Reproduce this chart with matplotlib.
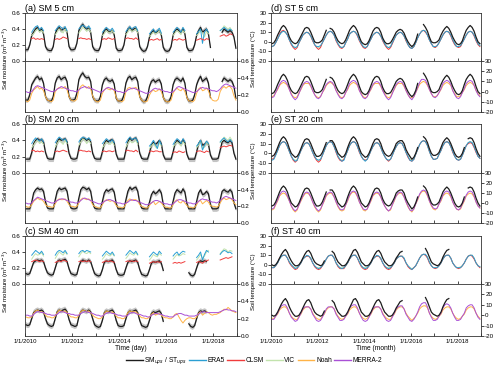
import numpy as np
import pandas as pd
import matplotlib
matplotlib.use('agg')
import matplotlib.pyplot as plt
import matplotlib.dates as mdates
from matplotlib.lines import Line2D

plt.rcParams['font.family'] = ['Liberation Sans', 'DejaVu Sans']

N = np.nan
months = pd.date_range('2010-01-01', periods=108, freq='MS') + pd.Timedelta(days=14)

# ---------------- soil moisture (monthly, J..D per row) ----------------
sm5_obs = [.14,.14,.20,.32,.36,.40,.42,.38,.40,.34,.18,.14,
           .13,.13,.18,.34,.40,.42,.38,.40,.41,.36,.18,.14,
           .14,.15,.22,.38,.43,.46,.42,.40,.41,.36,.18,.14,
           .13,.13,.18,.32,.38,.40,.37,.36,.38,.33,.16,.13,
           .13,.14,.20,.34,.40,.42,.38,.40,.41,.36,.18,.14,
           .12,.13,.18,.30,.36,.38,.35,.37,.38,.33,.17,.13,
           .12,.13,.18,.32,.38,.40,.38,.36,.40,.34,.17,.13,
           .13,.14,.20,.32,.38,.42,.36,.38,.40,.34,.17,N,
           N,N,N,N,.36,.40,.38,.36,.38,.36,.30,.16]
sm20_obs = [.17,.17,.17,.25,.36,.40,.42,.40,.41,.38,.25,.18,
            .17,.17,.17,.28,.38,.42,.40,.41,.42,.38,.24,.18,
            .17,.17,.18,.30,.40,.43,.42,.40,.42,.38,.24,.18,
            .17,.17,.17,.26,.36,.40,.38,.40,.41,.37,.23,.17,
            .17,.17,.17,.28,.38,.43,.40,.42,.43,.38,.24,.18,
            .17,.17,.17,.25,.34,.38,.35,.37,.40,.36,.22,.17,
            .17,.17,.17,.26,.36,.40,.38,.36,.41,.37,.23,.17,
            .17,.17,.17,.26,.36,.40,.34,.35,.38,.35,.22,.17,
            .17,.17,.18,.28,.38,.40,.38,.37,.40,.37,.24,.17]
sm40_obs = [.13,.12,.13,.20,.27,.29,.30,.29,.30,.28,.20,.14,
            .12,.11,.12,.20,.28,.30,.29,.30,.31,.28,.19,.13,
            .12,.11,.12,.22,.28,.30,.29,.28,.30,.28,.20,.13,
            .11,.10,.11,.18,.27,.29,.28,.29,.30,.27,.18,.12,
            .11,.11,.12,.20,.27,.29,.28,.29,.30,.27,.18,.12,
            .11,.10,.11,.18,.26,.28,.27,.28,.29,.26,.17,N,
            N,N,N,N,N,N,N,N,N,N,N,.14,
            .11,.10,.12,.20,.27,.29,.28,.29,.28,N,N,N,
            N,N,N,N,N,N,N,N,N,N,N,N]
sm_band = 0.03

# warm-season products, Apr..Oct per year
era5_sm5 = [[.36,.40,.43,.44,.39,.42,.38], [.38,.41,.44,.42,.40,.43,.38], [.40,.43,.45,.43,.41,.44,.40],
            [.36,.39,.42,.40,.38,.41,.37], [.37,.40,.43,.40,.42,.43,.38], [.34,.37,.40,.36,.38,.41,.35],
            [.36,.39,.42,.40,.36,.42,.38], [.34,.37,.40,.22,.36,.40,.36], [.38,.40,.42,.40,.38,.40,.38]]
clsm_sm5 = [[.28,.29,.27,.28,.27,.28,.27], [.27,.28,.27,.28,.30,.29,.28], [.28,.29,.28,.28,.27,.28,.27],
            [.27,.28,.27,.29,.28,.27,.28], [.28,.29,.28,.28,.27,.29,.27], [.26,.27,.26,.27,.28,.26,.27],
            [.26,.27,.26,.28,.27,.26,.27], [.26,.27,.28,.27,.26,.28,.27], [.31,.32,.33,.31,.32,.34,.33]]
vic_sm5 = [[.32,.34,.38,.40,.36,.38,.35], [.33,.36,.40,.38,.35,.40,.36], [.35,.38,.42,.40,.37,.40,.36],
           [.32,.34,.38,.36,.35,.38,.34], [.33,.36,.40,.37,.38,.40,.35], [.31,.33,.36,.34,.35,.38,.33],
           [.32,.35,.38,.36,.33,.38,.35], [.32,.34,.38,.35,.30,.37,.34], [.38,.40,.44,.42,.40,.42,.38]]
era5_sm20 = [[.36,.40,.43,.41,.39,.42,.38], [.37,.41,.44,.42,.40,.42,.38], [.38,.42,.44,.43,.41,.43,.40],
             [.36,.39,.42,.40,.38,.41,.37], [.37,.41,.44,.41,.42,.43,.38], [.33,.36,.40,.35,.30,.40,.35],
             [.35,.39,.42,.40,.36,.42,.38], [.33,.36,.40,.28,.34,.39,.36], [.38,.41,.43,.40,.38,.41,.38]]
clsm_sm20 = [[.27,.28,.26,.27,.26,.27,.26], [.26,.27,.26,.27,.28,.27,.26], [.27,.28,.27,.27,.26,.27,.26],
             [.26,.27,.26,.27,.27,.26,.27], [.27,.28,.27,.27,.26,.28,.26], [.26,.27,.26,.27,.27,.26,.26],
             [.25,.26,.25,.27,.26,.25,.26], [.26,.27,.27,.26,.25,.27,.26], [.31,.32,.33,.32,.33,.34,.33]]
vic_sm20 = [[.31,.34,.38,.40,.36,.38,.35], [.32,.36,.40,.38,.35,.40,.36], [.34,.38,.42,.40,.36,.40,.36],
            [.31,.34,.38,.36,.35,.38,.34], [.32,.36,.40,.37,.38,.40,.35], [.30,.33,.36,.32,.30,.37,.33],
            [.32,.35,.38,.36,.33,.38,.35], [.31,.34,.40,.30,.32,.38,.34], [.37,.40,.44,.42,.40,.44,.40]]
era5_sm40 = [[.36,.39,.42,.40,.38,.41,.37], [.36,.40,.42,.41,.39,.42,.38], [.38,.41,.42,.40,.42,.41,.40],
             [.35,.38,.41,.39,.37,.40,.36], [.36,.39,.42,.40,.38,.41,.37], [.34,.37,.40,.38,.36,.41,.38],
             [.35,.38,.40,.36,.39,.41,.40], [.33,.36,.40,.30,.37,.42,.40], [.37,.40,.42,.41,.39,.40,.38]]
clsm_sm40 = [[.28,.29,.30,.29,.28,.29,.28], [.27,.28,.29,.28,.30,.29,.28], [.28,.29,.28,.29,.28,.29,.28],
             [.27,.28,.29,.28,.29,.28,.27], [.28,.29,.28,.29,.28,.29,.28], [.26,.27,.28,.27,.28,.27,.28],
             [.26,.27,.26,.27,.26,.27,.28], [.27,.28,.27,.26,.28,.29,.30], [.30,.31,.32,.33,.32,.33,.34]]
vic_sm40 = [[.31,.35,.38,.36,.37,.39,.35], [.32,.36,.40,.38,.36,.40,.37], [.34,.38,.41,.39,.38,.40,.38],
            [.31,.34,.38,.36,.35,.38,.35], [.32,.35,.39,.37,.36,.39,.36], [.30,.33,.37,.35,.34,.38,.36],
            [.31,.34,.37,.35,.36,.38,.37], [.30,.33,.37,.32,.35,.40,.42], [.38,.41,.44,.43,.40,.42,.41]]

noah_sm5 = [.13,.12,.14,.22,.26,.28,.30,.27,.28,.25,.18,.14,
            .13,.12,.14,.24,.27,.29,.28,.28,.30,.26,.18,.14,
            .13,.13,.15,.26,.30,.32,.30,.28,.30,.27,.19,.14,
            .12,.12,.14,.22,.26,.28,.27,.26,.28,.25,.17,.13,
            .13,.12,.14,.24,.28,.29,.27,.28,.29,.26,.18,.14,
            .12,.12,.13,.20,.24,.26,.24,.25,.27,.24,.17,.13,
            .12,.12,.14,.22,.26,.28,.26,.25,.28,.24,.17,.13,
            .13,.12,.14,.22,.27,.29,.25,.26,.28,.25,.18,.14,
            .13,.13,.15,.24,.28,.30,.28,.30,.30,.27,.19,.14]
merra_sm5 = [.24,.23,.23,.24,.27,.30,.31,.30,.29,.28,.27,.26,
             .25,.24,.24,.25,.27,.28,.30,.29,.28,.27,.26,.25,
             .25,.24,.24,.26,.28,.29,.30,.29,.28,.28,.27,.26,
             .25,.24,.23,.24,.26,.28,.29,.28,.27,.26,.25,.24,
             .24,.23,.23,.24,.26,.27,.28,.28,.27,.26,.25,.24,
             .23,.22,.22,.23,.25,.27,.28,.27,.27,.26,.25,.24,
             .24,.23,.23,.24,.26,.29,.30,.29,.28,.27,.26,.25,
             .24,.23,.23,.24,.26,.28,.29,.28,.28,.27,.26,.25,
             .25,.24,.25,.27,.30,.32,.33,.32,.31,.30,.29,.28]
noah_sm20 = [.20,.19,.19,.22,.26,.28,.30,.28,.28,.26,.22,.20,
             .20,.19,.19,.23,.27,.29,.28,.28,.29,.26,.22,.20,
             .20,.19,.20,.24,.28,.30,.29,.28,.29,.27,.22,.20,
             .19,.18,.18,.22,.26,.28,.27,.26,.27,.25,.21,.19,
             .19,.18,.19,.23,.27,.29,.27,.28,.28,.26,.22,.20,
             .19,.18,.18,.21,.24,.26,.22,.24,.26,.24,.21,.19,
             .19,.18,.18,.22,.26,.28,.25,.24,.27,.24,.21,.19,
             .19,.18,.19,.22,.26,.27,.23,.25,.27,.25,.21,.20,
             .20,.19,.20,.24,.28,.30,.28,.29,.30,.28,.24,.22]
merra_sm20 = [.24,.23,.23,.24,.27,.29,.31,.30,.29,.28,.27,.26,
              .25,.24,.24,.25,.27,.28,.29,.29,.28,.27,.26,.25,
              .25,.24,.24,.25,.27,.29,.30,.29,.28,.27,.26,.25,
              .24,.23,.23,.24,.26,.27,.28,.28,.27,.26,.25,.24,
              .24,.23,.23,.24,.25,.27,.28,.27,.27,.26,.25,.24,
              .23,.22,.22,.23,.24,.26,.27,.27,.26,.25,.24,.23,
              .23,.22,.22,.23,.25,.27,.28,.28,.27,.26,.25,.24,
              .24,.23,.23,.24,.26,.28,.29,.28,.28,.27,.26,.25,
              .25,.24,.25,.27,.29,.31,.32,.31,.30,.29,.28,.27]
noah_sm40 = [.22,.21,.21,.22,.26,.29,.30,.28,.28,.27,.24,.22,
             .22,.21,.21,.23,.27,.30,.29,.28,.29,.27,.24,.22,
             .22,.21,.21,.24,.28,.30,.29,.28,.29,.27,.24,.22,
             .21,.20,.20,.22,.26,.29,.28,.27,.28,.26,.23,.21,
             .21,.20,.20,.23,.27,.29,.28,.28,.28,.26,.23,.21,
             .21,.20,.20,.22,.25,.27,.24,.25,.26,.24,.22,.21,
             .21,.20,.20,.22,.25,.26,.22,.18,.15,.18,.20,.21,
             .21,.20,.20,.22,.26,.28,.24,.26,.28,.27,.25,.24,
             .25,.25,.26,.27,.29,.31,.30,.33,.31,.29,.28,.27]
merra_sm40 = [.24,.24,.23,.23,.25,.27,.28,.28,.27,.27,.26,.25,
              .25,.24,.24,.24,.25,.27,.28,.28,.27,.26,.26,.25,
              .25,.24,.24,.24,.26,.27,.28,.28,.27,.27,.26,.25,
              .24,.24,.23,.23,.25,.26,.27,.27,.26,.26,.25,.24,
              .24,.23,.23,.23,.24,.26,.27,.27,.26,.25,.25,.24,
              .23,.23,.22,.22,.24,.25,.26,.26,.25,.25,.24,.23,
              .23,.22,.22,.22,.24,.25,.26,.26,.25,.24,.24,.23,
              .23,.23,.23,.24,.25,.27,.28,.28,.27,.27,.27,.27,
              .27,.27,.27,.28,.29,.30,.31,.30,.30,.29,.29,.28]

# ---------------- soil temperature (monthly, J..D per row) ----------------
st5_obs = [-2,-1,2,7,11,15,17,15,11,5,1,-1,
           -2,-1,2,6,10,14,15,14,10,5,0,-1,
           -1,0,2,7,12,N,14,13,10,5,1,-1,
           -2,-1,2,7,12,15,17,15,11,5,0,-2,
           -3,-2,1,6,11,14,15,14,10,4,0,-2,
           -2,-1,2,6,10,12,13,12,9,4,0,-3,
           -5,-3,1,8,N,N,18,15,11,5,0,-1,
           -1,0,2,7,11,14,16,14,10,5,1,-2,
           -3,-2,1,7,12,15,17,15,11,5,0,-2]
era5_st5 = [-5,-4,-1,3,7,10,11,10,7,2,-2,-5,
            -6,-5,-1,3,7,9,10,9,6,2,-3,-5,
            -5,-4,-1,3,7,10,11,10,7,2,-2,-5,
            -6,-5,-1,3,8,10,11,10,7,2,-2,-5,
            -6,-5,-1,3,7,9,10,9,6,2,-2,-5,
            -6,-5,-1,3,7,9,10,9,6,2,-3,-6,
            -7,-5,-1,4,8,11,12,11,7,2,-2,-5,
            -5,-4,-1,3,7,10,11,10,7,2,-2,-5,
            -5,-4,-1,3,7,10,11,10,7,2,-2,-4]
clsm_st5 = [-5,-4,-1,3,8,11,12,10,7,2,-3,-6,
            -8,-6,-1,3,7,9,10,9,6,1,-3,-6,
            -8,-6,-1,3,7,10,11,10,7,1,-3,-6,
            -7,-5,-1,3,8,10,11,10,6,1,-3,-6,
            -7,-5,-1,3,7,9,10,9,6,1,-3,-6,
            -8,-6,-2,3,7,9,10,9,6,1,-3,-6,
            -7,-5,-1,4,8,11,12,10,7,2,-2,-5,
            -6,-4,-1,3,7,10,11,10,6,1,-3,-5,
            -6,-5,-1,3,7,10,11,10,6,1,-3,-5]
vic_st5 = [-5,-4,-1,3,7,10,11,10,7,2,-2,-5,
           -6,-5,-1,3,7,9,10,9,6,1,-3,-5,
           -6,-5,-1,3,7,10,11,10,7,2,-2,-5,
           -6,-5,-1,3,8,10,11,10,7,2,-2,-5,
           -6,-5,-1,3,7,9,10,9,6,2,-2,-5,
           -6,-5,-1,3,7,9,10,9,6,1,-3,-6,
           -6,-5,-1,4,8,11,12,11,7,2,-2,-5,
           -6,-4,-1,3,7,10,11,10,7,2,-2,-5,
           -5,-4,-1,3,7,10,11,10,7,2,-2,-4]
noah_st5 = [-5,-4,-1,2,6,8,9,8,6,2,-2,-5,
            -6,-5,-1,2,6,8,8,8,5,1,-3,-5,
            -6,-5,-1,2,6,8,9,8,6,1,-2,-5,
            -6,-5,-1,2,6,8,9,8,6,1,-2,-5,
            -6,-5,-1,2,6,8,8,8,5,1,-2,-5,
            -6,-5,-1,2,6,8,8,8,5,1,-3,-6,
            -6,-5,-1,3,7,9,10,9,6,2,-2,-5,
            -5,-4,-1,2,6,8,9,8,6,1,-2,-5,
            -5,-4,-1,2,6,8,9,8,6,1,-2,-4]
merra_st5 = [-6,-5,-1,3,7,10,11,10,7,2,-3,-6,
             -8,-6,-2,3,7,9,10,9,6,1,-3,-6,
             -7,-5,-1,3,7,9,10,9,6,1,-3,-6,
             -7,-5,-1,3,8,10,11,10,7,1,-3,-6,
             -7,-5,-1,3,7,9,10,9,6,1,-3,-6,
             -8,-6,-2,3,7,9,10,9,6,1,-3,-6,
             -8,-5,-1,4,9,12,12,11,7,2,-2,-5,
             -6,-4,-1,3,8,10,11,10,7,1,-3,-6,
             -7,-5,-1,3,8,10,11,10,6,1,-3,-5]

st20_obs = [-3,-2,1,6,11,15,17,15,11,5,0,-2,
            -4,-3,0,5,10,14,15,14,10,5,0,-3,
            -3,-2,1,6,11,N,13,13,10,5,0,-2,
            -4,-3,0,6,11,15,17,15,11,5,0,-2,
            -4,-3,0,5,10,14,15,14,10,4,0,-2,
            -3,-2,1,5,10,12,13,13,10,4,0,-3,
            -6,-4,0,6,N,N,17,15,11,5,0,-2,
            -2,-1,1,6,11,14,16,14,10,5,0,-3,
            -4,-3,0,6,N,15,16,15,11,5,0,-3]
era5_st20 = [-7,-6,-2,3,8,11,12,11,7,2,-3,-6,
             -8,-7,-2,3,7,10,11,10,6,1,-3,-6,
             -7,-6,-2,3,8,11,12,11,7,2,-3,-6,
             -8,-7,-2,3,8,11,12,11,7,2,-3,-6,
             -8,-6,-2,3,7,10,11,10,6,1,-3,-6,
             -7,-6,-2,3,7,10,11,10,6,1,-3,-7,
             -8,-6,-1,4,9,12,13,12,8,2,-3,-6,
             -6,-5,-1,3,8,11,12,11,7,2,-3,-6,
             -7,-6,-2,3,8,11,12,11,7,2,-3,-5]
clsm_st20 = [-6,-5,-1,3,8,11,12,11,7,2,-3,-7,
             -9,-7,-2,3,7,10,11,10,6,1,-4,-7,
             -9,-7,-2,3,8,11,12,11,7,1,-4,-7,
             -8,-6,-2,3,8,11,12,11,7,1,-3,-6,
             -7,-6,-2,3,7,10,11,10,6,1,-3,-6,
             -8,-6,-2,3,7,10,11,10,6,1,-4,-7,
             -8,-6,-1,4,9,12,13,12,8,2,-3,-6,
             -6,-5,-1,3,8,11,12,11,7,1,-3,-6,
             -7,-6,-2,3,8,10,11,10,6,1,-3,-5]
vic_st20 = [-6,-5,-2,3,8,11,12,11,7,2,-3,-6,
            -7,-6,-2,3,7,10,11,10,6,1,-3,-6,
            -7,-6,-2,3,8,11,12,11,7,2,-3,-6,
            -7,-6,-2,3,8,11,12,11,7,2,-3,-6,
            -7,-6,-2,3,7,10,11,10,6,1,-3,-6,
            -7,-6,-2,3,7,10,11,10,6,1,-3,-6,
            -7,-6,-1,4,9,12,13,12,8,2,-3,-6,
            -6,-5,-1,3,8,11,12,11,7,2,-3,-6,
            -6,-5,-2,3,8,11,12,11,7,2,-3,-5]
noah_st20 = [-7,-6,-2,2,7,9,10,9,6,2,-3,-7,
             -9,-7,-2,2,6,9,10,9,6,1,-4,-7,
             -9,-7,-2,2,7,9,10,9,6,1,-4,-7,
             -8,-7,-2,2,7,10,11,10,6,1,-3,-7,
             -8,-6,-2,2,7,9,10,9,6,1,-3,-6,
             -8,-7,-2,2,7,9,10,9,6,1,-4,-7,
             -9,-6,-1,3,8,11,12,11,7,2,-3,-6,
             -7,-5,-1,2,7,9,10,9,6,1,-3,-6,
             -7,-6,-2,2,7,9,10,9,6,1,-3,-5]
merra_st20 = [-6,-5,-1,3,8,11,12,11,7,2,-3,-6,
              -8,-6,-2,3,7,10,11,10,6,1,-3,-6,
              -8,-6,-2,3,8,10,11,10,6,1,-3,-6,
              -7,-6,-2,3,8,11,12,11,7,1,-3,-6,
              -7,-6,-2,3,8,10,11,10,6,1,-3,-6,
              -8,-6,-2,3,7,10,11,10,6,1,-3,-7,
              -8,-6,-1,4,9,12,13,12,8,2,-2,-5,
              -6,-5,-1,3,8,11,12,11,7,1,-3,-6,
              -7,-5,-1,3,8,11,12,11,7,1,-3,-5]

st40_obs = [0,-1,0,3,7,11,14,16,13,8,4,1,
            -1,-1,0,3,7,11,14,15,12,7,3,1,
            0,-1,0,4,N,N,N,14,12,7,3,1,
            -1,-1,0,3,7,11,15,16,13,8,3,1,
            -1,-1,0,3,7,11,14,15,12,7,3,1,
            -1,-1,0,3,7,10,13,14,N,N,N,N,
            N,N,N,N,N,N,N,17,13,8,3,1,
            0,-1,0,3,8,12,15,16,N,N,N,N,
            N,N,N,N,N,N,N,N,N,N,N,N]
era5_st40 = [-3,-3,-1,2,6,9,10,10,7,3,0,-2,
             -4,-3,-1,2,6,8,10,9,7,2,-1,-3,
             -4,-3,-1,2,6,9,10,10,7,2,-1,-3,
             -4,-3,-1,2,6,9,10,10,7,3,-1,-3,
             -4,-3,-1,2,6,8,10,9,7,2,-1,-3,
             -4,-3,-1,2,6,8,9,9,7,2,-1,-3,
             -5,-3,-1,3,7,10,11,11,8,3,-1,-3,
             -3,-3,-1,2,6,9,10,10,7,2,-1,-3,
             -3,-3,-1,2,6,9,10,10,7,2,-1,-2]
clsm_st40 = [-3,-3,-1,2,7,9,10,10,7,2,-1,-3,
             -5,-4,-1,2,6,8,9,9,6,2,-2,-4,
             -5,-4,-1,2,6,9,10,10,7,2,-2,-4,
             -4,-4,-1,2,6,9,10,10,7,2,-2,-4,
             -5,-4,-1,2,6,8,9,9,6,2,-2,-4,
             -5,-4,-1,2,6,8,9,9,6,2,-2,-4,
             -5,-3,-1,3,7,10,11,10,7,2,-1,-3,
             -4,-3,-1,2,6,9,10,10,7,2,-1,-3,
             -4,-3,-1,2,6,9,10,9,6,2,-1,-3]
vic_st40 = [-3,-2,-1,2,6,9,10,10,7,3,0,-2,
            -3,-3,-1,2,6,8,9,9,7,2,-1,-3,
            -3,-3,-1,2,6,9,10,10,7,2,-1,-3,
            -3,-3,-1,2,6,9,10,10,7,3,-1,-3,
            -3,-3,-1,2,6,8,9,9,7,2,-1,-3,
            -3,-3,-1,2,6,8,9,9,7,2,-1,-3,
            -4,-3,-1,3,7,10,11,10,8,3,-1,-3,
            -3,-3,-1,2,6,9,10,10,7,2,-1,-3,
            -3,-2,-1,2,6,9,10,10,7,2,-1,-2]
noah_st40 = [-3,-3,-1,1,5,7,8,8,6,2,-1,-3,
             -4,-4,-1,1,5,7,8,8,6,2,-1,-3,
             -4,-4,-1,1,5,7,8,8,6,2,-1,-3,
             -4,-3,-1,1,5,7,8,8,6,2,-1,-3,
             -4,-3,-1,1,5,7,8,8,6,2,-1,-3,
             -4,-4,-1,1,5,7,8,8,6,2,-1,-3,
             -5,-3,-1,2,6,8,9,9,7,2,-1,-3,
             -4,-3,-1,1,5,7,8,8,6,2,-1,-3,
             -4,-3,-1,1,5,7,8,8,6,2,-1,-3]
merra_st40 = [-4,-4,-1,2,6,9,10,10,7,2,-2,-4,
              -6,-5,-2,2,6,8,8,8,6,1,-2,-5,
              -6,-5,-2,2,6,8,8,8,6,1,-2,-5,
              -5,-4,-1,2,7,9,10,10,7,2,-2,-5,
              -6,-5,-2,2,6,8,8,8,6,1,-2,-5,
              -6,-5,-2,2,6,8,9,9,6,1,-2,-5,
              -6,-4,-1,3,8,11,12,12,8,2,-2,-5,
              -5,-4,-1,2,7,10,11,10,7,2,-2,-5,
              -5,-4,-1,2,7,9,10,10,7,2,-2,-4]

C_OBS = '#1c1c1c'
C_BAND = '#c4c4c4'
C_ERA5 = '#2b9fd3'
C_CLSM = '#f03c3c'
C_VIC = '#c2e3ad'
C_NOAH = '#ffb347'
C_MERRA = '#a950d6'


def season(rows):
    out = np.full(108, np.nan)
    for i, r in enumerate(rows):
        out[i * 12 + 3:i * 12 + 10] = r
    return out


def arr(v):
    return np.array(v, dtype=float)


fig = plt.figure(figsize=(5, 3.74), dpi=100)

rows_px = [(13, 61, 112), (124, 173, 223), (236, 284, 336)]
cols_px = [(25, 237), (271, 481)]


def rect(x0, x1, y0, y1):
    return [x0 / 500, 1 - y1 / 374, (x1 - x0) / 500, (y1 - y0) / 374]


def style(ax, side, lim, ticks, fmt, xlab):
    ax.set_xlim(pd.Timestamp('2010-01-01'), pd.Timestamp('2019-01-01'))
    ax.set_ylim(*lim)
    ax.set_yticks(ticks)
    ax.yaxis.set_major_formatter(plt.FuncFormatter(fmt))
    ax.xaxis.set_major_locator(mdates.YearLocator(2))
    ax.xaxis.set_minor_locator(mdates.YearLocator(1))
    ax.xaxis.set_major_formatter(plt.FuncFormatter(lambda x, p: '1/1/%d' % mdates.num2date(x).year))
    ax.tick_params(axis='x', which='both', direction='in', length=2, width=0.5,
                   labelsize=4.3, pad=2, labelbottom=xlab)
    if side == 'right':
        ax.yaxis.tick_right()
    ax.tick_params(axis='y', direction='out', length=2, width=0.5, labelsize=4.5, pad=1)
    for s in ax.spines.values():
        s.set_linewidth(0.6)
        s.set_color('#333333')


def panel(col, row, title, obs, top, bottom, kind):
    x0, x1 = cols_px[col]
    y0, ym, y1 = rows_px[row]
    axt = fig.add_axes(rect(x0, x1, y0, ym))
    axb = fig.add_axes(rect(x0, x1, ym, y1))
    obs = arr(obs)
    for ax in (axt, axb):
        if kind == 'sm':
            ax.fill_between(months, obs - sm_band, obs + sm_band, color=C_BAND, lw=0)
            ax.plot(months, obs, color=C_OBS, lw=0.9)
    for s, c in top:
        axt.plot(months, s, color=c, lw=0.7)
    for s, c in bottom:
        axb.plot(months, s, color=c, lw=0.7)
    if kind == 'st':
        for ax in (axt, axb):
            ax.plot(months, obs, color=C_OBS, lw=0.9)
        lim, ticks, fmt = (-20, 30), [-20, -10, 0, 10, 20, 30], lambda v, p: '%d' % v
    else:
        lim, ticks, fmt = (0, 0.6), [0, 0.2, 0.4, 0.6], lambda v, p: '%.1f' % v
    style(axt, 'left', lim, ticks, fmt, False)
    style(axb, 'right', lim, ticks, fmt, row == 2)
    axt.set_title(title, loc='left', fontsize=6.5, pad=1.5)
    if row == 2:
        axb.set_xlabel('Time (day)' if kind == 'sm' else 'Time (month)', fontsize=4.8, labelpad=1)
    ylab = 'Soil moisture (m$^3$ m$^{-3}$)' if kind == 'sm' else 'Soil temperature (°C)'
    fig.text((6 if col == 0 else 253) / 500, 1 - (ym - 2) / 374, ylab, rotation=90,
             ha='center', va='center', fontsize=4.3)


panel(0, 0, '(a) SM 5 cm', sm5_obs,
      [(season(vic_sm5), C_VIC), (season(era5_sm5), C_ERA5), (season(clsm_sm5), C_CLSM)],
      [(arr(noah_sm5), C_NOAH), (arr(merra_sm5), C_MERRA)], 'sm')
panel(0, 1, '(b) SM 20 cm', sm20_obs,
      [(season(vic_sm20), C_VIC), (season(era5_sm20), C_ERA5), (season(clsm_sm20), C_CLSM)],
      [(arr(noah_sm20), C_NOAH), (arr(merra_sm20), C_MERRA)], 'sm')
panel(0, 2, '(c) SM 40 cm', sm40_obs,
      [(season(vic_sm40), C_VIC), (season(era5_sm40), C_ERA5), (season(clsm_sm40), C_CLSM)],
      [(arr(noah_sm40), C_NOAH), (arr(merra_sm40), C_MERRA)], 'sm')
panel(1, 0, '(d) ST 5 cm', st5_obs,
      [(arr(vic_st5), C_VIC), (arr(clsm_st5), C_CLSM), (arr(era5_st5), C_ERA5)],
      [(arr(noah_st5), C_NOAH), (arr(merra_st5), C_MERRA)], 'st')
panel(1, 1, '(e) ST 20 cm', st20_obs,
      [(arr(vic_st20), C_VIC), (arr(clsm_st20), C_CLSM), (arr(era5_st20), C_ERA5)],
      [(arr(noah_st20), C_NOAH), (arr(merra_st20), C_MERRA)], 'st')
panel(1, 2, '(f) ST 40 cm', st40_obs,
      [(arr(vic_st40), C_VIC), (arr(clsm_st40), C_CLSM), (arr(era5_st40), C_ERA5)],
      [(arr(noah_st40), C_NOAH), (arr(merra_st40), C_MERRA)], 'st')

names = ['SM$_{ups}$ / ST$_{ups}$', 'ERA5', 'CLSM', 'VIC', 'Noah', 'MERRA-2']
colors = [C_OBS, C_ERA5, C_CLSM, C_VIC, C_NOAH, C_MERRA]
handles = [Line2D([], [], color=c, lw=1.0) for c in colors]
fig.legend(handles, names, loc='center', bbox_to_anchor=(0.508, 0.035), ncol=6, frameon=False,
           fontsize=4.8, handlelength=2.5, columnspacing=0.35, handletextpad=0.25)

fig.savefig('out.png', dpi=100)
